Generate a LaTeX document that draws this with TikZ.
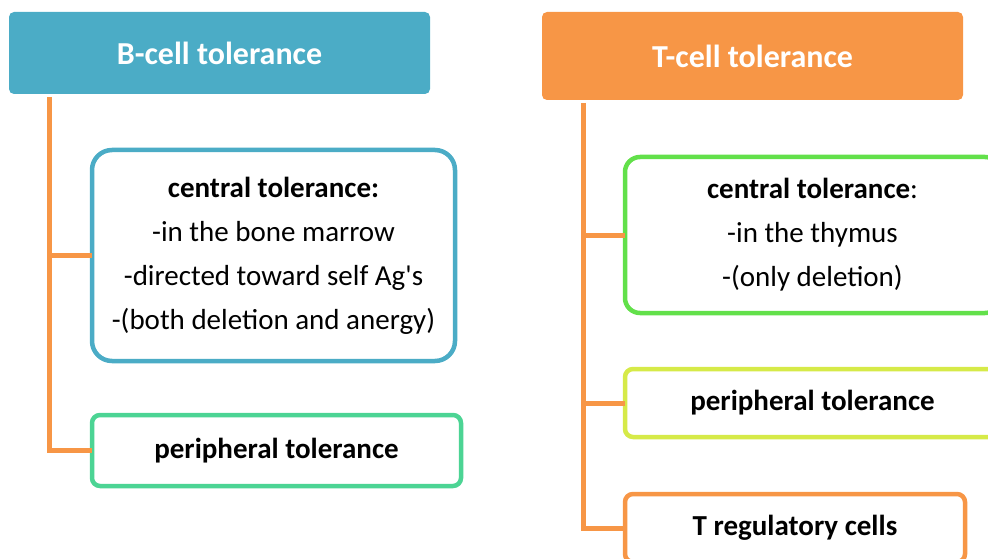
\documentclass[tikz,border=0pt]{standalone}
\usepackage{fontspec}
\setmainfont{Carlito}
\definecolor{cblue}{HTML}{4BACC6}
\definecolor{corange}{HTML}{F79646}
\definecolor{cteal}{HTML}{4CD494}
\definecolor{cgreen}{HTML}{62E04A}
\definecolor{clime}{HTML}{D6EA48}
\begin{document}
\begin{tikzpicture}[x=1pt,y=-1pt,
  hdr/.style={fill=#1, draw=none, rounded corners=5pt, text=white, inner sep=0pt, outer sep=0pt,
    font=\fontsize{32}{36}\selectfont\bfseries},
  box/.style={draw=#1, fill=white, line width=4.5pt, inner sep=0pt, outer sep=0pt, align=center,
    font=\fontsize{29}{44}\selectfont},
  conn/.style={draw=corange, line width=5pt}]
\useasboundingbox (0,0) rectangle (988,559);
\clip (0,0) rectangle (988,559);
% B-cell side
\node[hdr=cblue, minimum width=421pt, minimum height=82pt] (bh) at (219.5,53) {B-cell tolerance};
\node[box=cblue, rounded corners=20pt, minimum width=363pt, minimum height=211pt] (bcen) at (273.5,255.5)
  {\raisebox{-3pt}{\parbox{340pt}{\centering\textbf{central tolerance:}\\-in the bone marrow\\-directed toward self Ag\textquotesingle s\\-(both deletion and anergy)}}};
\node[box=cteal, rounded corners=8pt, minimum width=369pt, minimum height=71pt] (bper) at (276.5,450.5)
  {\textbf{peripheral tolerance}};
\coordinate (bv) at (49,97);
\draw[conn] (bv) |- (bper.west);
\draw[conn] (bv |- bcen.west) -- (bcen.west);
% T-cell side
\node[hdr=corange, minimum width=421pt, minimum height=88pt] (th) at (752.5,56) {T-cell tolerance};
\node[box=cgreen, rounded corners=15pt, minimum width=375pt, minimum height=156pt] (tcen) at (812.5,235)
  {\textbf{central tolerance}:\\-in the thymus\\-(only deletion)};
\node[box=clime, rounded corners=8pt, minimum width=375pt, minimum height=68pt] (tper) at (812.5,403)
  {\textbf{peripheral tolerance}};
\node[box=corange, rounded corners=8pt, minimum width=340pt, minimum height=68pt] (treg) at (795,528)
  {\textbf{T regulatory cells}};
\coordinate (tv) at (583,103);
\draw[conn] (tv) |- (treg.west);
\draw[conn] (tv |- tcen.west) -- (tcen.west);
\draw[conn] (tv |- tper.west) -- (tper.west);
\end{tikzpicture}
\end{document}
